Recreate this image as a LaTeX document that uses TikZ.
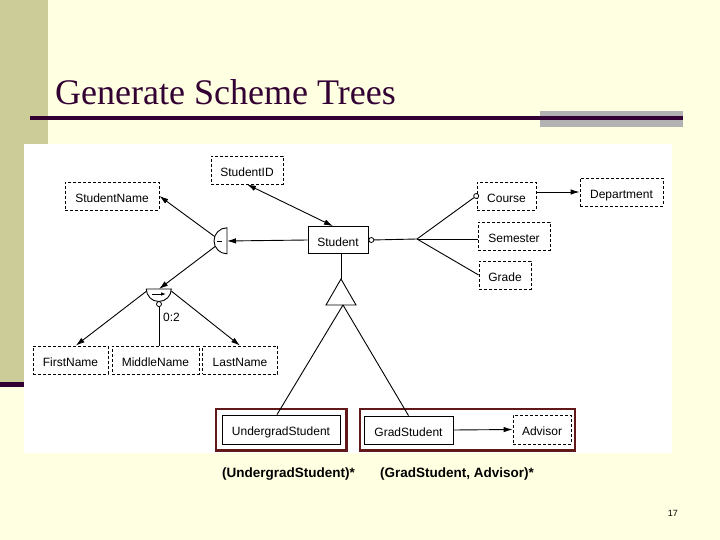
\documentclass[tikz,border=0pt]{standalone}
\usepackage{fontspec}
\setmainfont{Liberation Serif}
\setsansfont{Liberation Sans}
\usepackage{xcolor}
\usetikzlibrary{arrows.meta,positioning,fit,calc}

\definecolor{slidebg}{RGB}{255,255,225}
\definecolor{khaki}{RGB}{204,204,153}
\definecolor{titlepurple}{RGB}{51,0,51}
\definecolor{bargray}{RGB}{178,178,178}
\definecolor{treeframe}{RGB}{96,24,24}

\begin{document}
\begin{tikzpicture}[
  x=1pt, y=-1pt,
  every node/.style={font=\sffamily\fontsize{12}{14}\selectfont},
  attr/.style={draw, dash pattern=on 3pt off 2pt, line width=0.8pt, minimum height=28pt, inner sep=0pt, text height=13pt, text depth=0.8pt},
  obj/.style={draw, line width=0.8pt, minimum height=28pt, inner sep=0pt, text height=13pt, text depth=0.8pt},
  opt/.style={draw, circle, fill=white, line width=0.8pt, minimum size=5pt, inner sep=0pt},
  link/.style={line width=0.9pt},
  arr/.style={-{Latex[length=9pt,width=5.5pt]}, line width=0.9pt},
  tree/.style={draw=treeframe, line width=2.2pt, inner ysep=6pt}
]
\useasboundingbox (0,0) rectangle (720,540);
% slide background
\fill[slidebg] (0,0) rectangle (720,540);
\fill[khaki] (0,0) rectangle (48,382);
\fill[titlepurple] (0,382) rectangle (30,387);
\fill[bargray] (540,111) rectangle (683,127);
\draw[titlepurple, line width=3.5pt] (30,118) -- (683,118);
\node[anchor=base west, inner sep=0pt, text=titlepurple, font=\rmfamily\fontsize{36}{40}\selectfont] (title) at (55,105) {Generate Scheme Trees};
\fill[white] (24,144) rectangle (672,453);

% object sets
\node[attr, minimum width=72pt] (sid) at (247,170) {StudentID};
\node[attr, minimum width=94pt] (sname) at (112,196) {StudentName};
\node[obj, minimum width=60pt, minimum height=27pt] (student) at (338,240) {Student};
\node[attr, minimum width=59pt] (course) at (506.5,196) {Course};
\node[attr, minimum width=83pt] (dept) at (621.5,192) {Department};
\node[attr, minimum width=72pt] (sem) at (514,236) {Semester};
\node[attr, minimum width=52pt] (grade) at (505,275) {Grade};
\node[attr, minimum width=75pt] (first) at (70.5,360) {FirstName};
\node[attr, minimum width=87pt] (middle) at (155.5,360) {MiddleName};
\node[attr, minimum width=75pt] (last) at (240,360) {LastName};
\node[obj, minimum width=118pt, minimum height=29pt] (ugrad) at (281,429.5) {UndergradStudent};
\node[obj, minimum width=89pt] (grad) at (408.5,430) {GradStudent};
\node[attr, minimum width=58pt, minimum height=29pt] (advisor) at (542,429.5) {Advisor};

% scheme trees
\node[tree, fit=(ugrad), inner xsep=6pt] (ugradtree) {};
\node[tree, fit=(grad)(advisor), inner xsep=3.5pt] (gradtree) {};

% aggregation: StudentName split
\node[circle, minimum size=26pt, inner sep=0pt] (split) at (227,241) {};
\draw[link] (split.north) arc (270:90:13) -- cycle;
\draw[line width=0.8pt] ($(split.center)+(-10,0)$) -- ++(5,0);
\node[circle, minimum size=25pt, inner sep=0pt] (bowl) at (159,289) {};
\draw[link] (bowl.west) arc (180:0:12.5) -- cycle;
\draw[-{Latex[length=5pt,width=3.5pt]}, line width=0.8pt] ($(bowl.center)+(-7,5)$) -- ++(14,0);
\node[opt, below=-0.5pt of bowl.south] (bopt) {};
\node[anchor=west, inner sep=1pt] (card) at (162,317) {0:2};

% connectors
\draw[{Latex[length=9pt,width=5.5pt]}-{Latex[length=9pt,width=5.5pt]}, line width=0.9pt] (sid.south) -- ($(student.north)+(-5,0)$);
\draw[arr] (student.west) -- (split.center);
\draw[arr] (split.160) -- (sname.east);
\draw[arr] (split.205) -- (bowl.center);
\draw[arr] (bowl.190) -- (first.70);
\draw[arr] (bowl.350) -- (last.north);
\draw[link] (bopt) -- (bopt |- middle.north);

\node[opt, right=0pt of student] (sopt) {};
\node[opt, left=-2.5pt of course] (copt) {};
\coordinate (fan) at (417,239);
\draw[link] (sopt) -- (fan);
\draw[link] (fan) -- (copt);
\draw[link] (fan) -- (sem.west |- fan);
\draw[link] (fan) -- (grade.west);
\draw[arr] (course.east |- dept.west) -- (dept.west);

% generalization
\coordinate (isa) at (341,279);
\draw[link] (isa |- student.south) -- (isa);
\draw[link] (isa) -- ++(15,26) -- ++(-30,0) -- cycle;
\coordinate (isabase) at (343,305);
\draw[link] (isabase) -- ($(ugrad.north)+(-4,0)$);
\draw[link] (isabase) -- (grad.north);
\draw[arr] (grad.east) -- (advisor.west);

% tree labels
\node[anchor=west, inner sep=0pt, font=\sffamily\bfseries\fontsize{13.5}{16}\selectfont] (ugradlabel) at (222,474) {(UndergradStudent)*};
\node[anchor=west, inner sep=0pt, font=\sffamily\bfseries\fontsize{13.5}{16}\selectfont] (gradlabel) at (380,474) {(GradStudent, Advisor)*};
\node[anchor=east, inner sep=0pt, font=\sffamily\fontsize{9}{11}\selectfont] (pageno) at (678,513) {17};
\end{tikzpicture}
\end{document}
